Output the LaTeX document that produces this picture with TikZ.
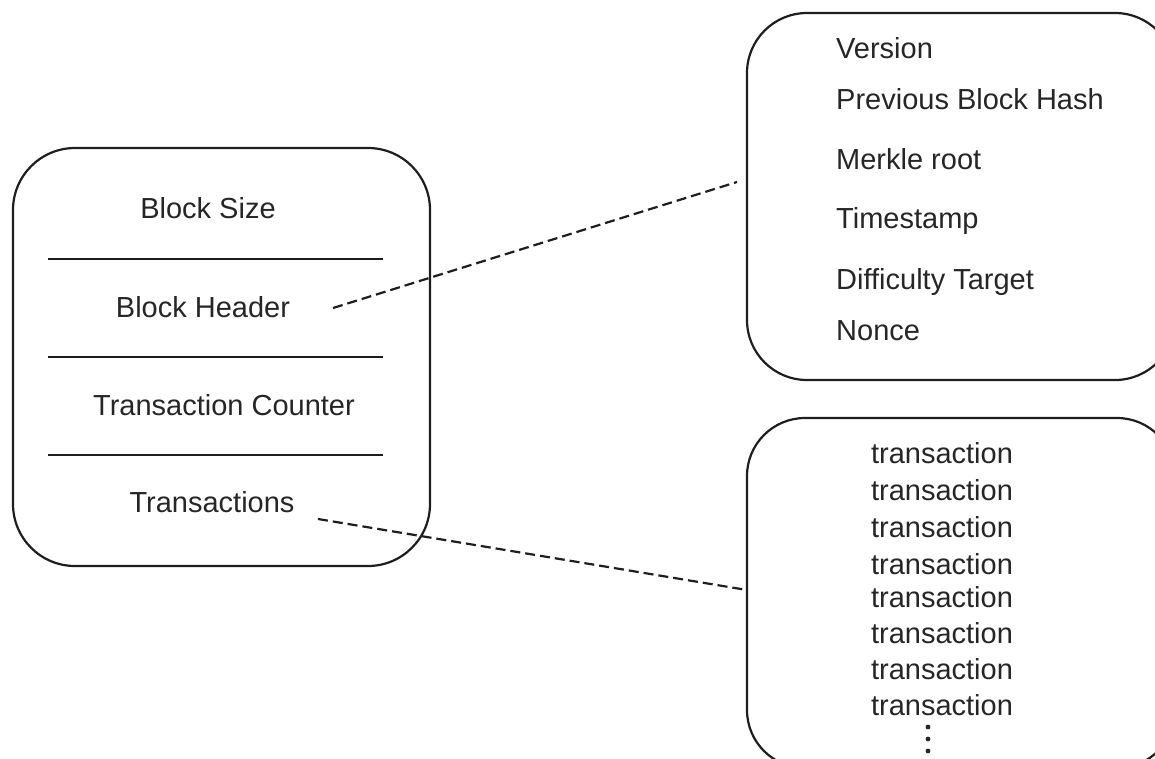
\documentclass[tikz,border=0pt]{standalone}
\usepackage{fontspec}
\setmainfont{Liberation Sans}
\definecolor{ink}{HTML}{1E1E1E}
\definecolor{txt}{HTML}{262626}
\begin{document}
\begin{tikzpicture}[x=1pt,y=-1pt,
  panel/.style={draw=ink,line width=2.2pt,rounded corners=62pt,inner sep=0pt},
  label/.style={text=txt,font=\fontsize{29}{34}\selectfont,inner sep=0pt},
  divider/.style={draw=ink,line width=2.2pt},
  link/.style={draw=ink,line width=2.2pt,dash pattern=on 10pt off 5pt}]
\useasboundingbox (0,0) rectangle (1155,758);
\clip (0,0) rectangle (1155,758);

% block structure
\node[panel,minimum width=417pt,minimum height=418pt] (blk) at (221.5,357) {};
\node[label] (size) at (208,208) {Block Size};
\node[label] (hdr) at (203,307) {Block Header};
\node[label] (cnt) at (224,405) {Transaction Counter};
\node[label] (txs) at (212,502) {Transactions};
\draw[divider] (48,259) -- (383,259);
\draw[divider] (48,357) -- (383,357);
\draw[divider] (48,455) -- (383,455);

% header fields
\node[panel,rounded corners=60pt,minimum width=428pt,minimum height=367pt] (hdrbox) at (961,196.5) {};
\node[label,anchor=west] (ver) at (836,48) {Version};
\node[label,anchor=west] (prev) at (836,99) {Previous Block Hash};
\node[label,anchor=west] (merk) at (836,159) {Merkle root};
\node[label,anchor=west] (ts) at (836,221) {Timestamp};
\node[label,anchor=west] (diff) at (836,282) {Difficulty Target};
\node[label,anchor=west] (nonce) at (836,331) {Nonce};

% transaction list
\node[panel,rounded corners=58pt,minimum width=428pt,minimum height=350pt] (txbox) at (961,593) {};
\foreach \y [count=\i] in {453,490,527,564,597,633,669,705}
  \node[label] (tx\i) at (942,\y) {transaction};
\foreach \y in {727,739,751}
  \fill[txt] (928,\y) circle (2.4pt);

% connectors
\coordinate (hdrA) at (333,308);
\coordinate (hdrB) at (737,182);
\coordinate (txA) at (318,519);
\coordinate (txB) at (747,590);
\draw[link] (hdrA) -- (hdrB);
\draw[link] (txA) -- (txB);
\end{tikzpicture}
\end{document}
